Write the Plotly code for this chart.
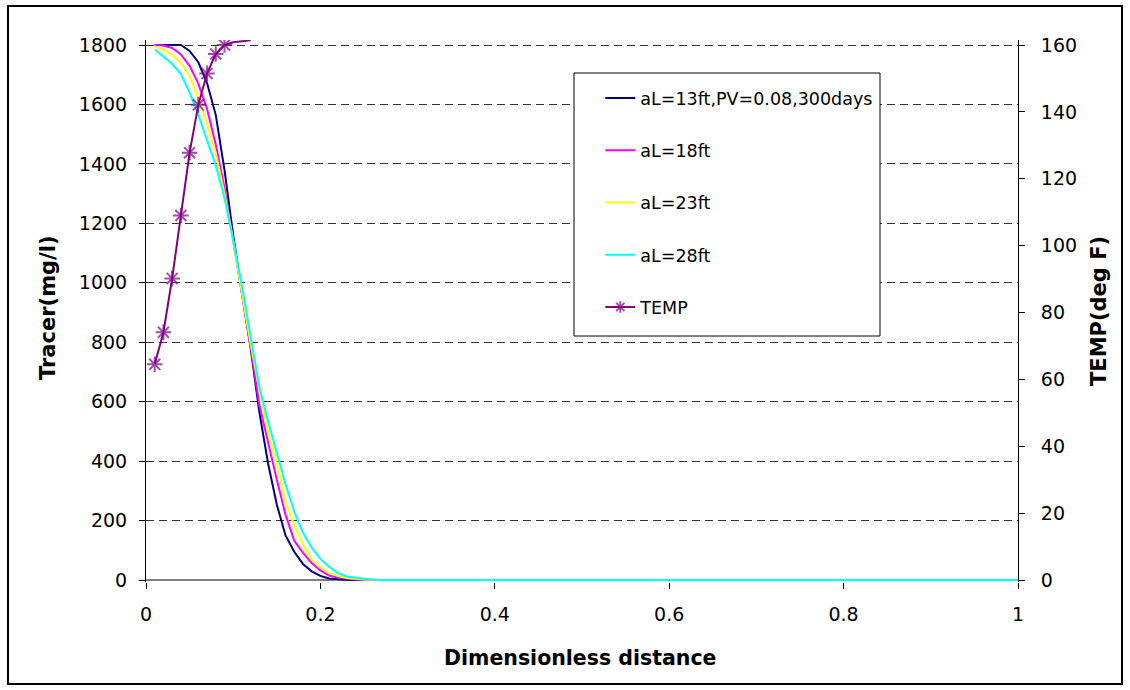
import plotly.graph_objects as go

# ---------------- data ----------------
dist = [0.01, 0.02, 0.03, 0.04, 0.05, 0.06, 0.07, 0.08, 0.09, 0.10,
        0.11, 0.12, 0.13, 0.14, 0.15, 0.16, 0.17, 0.18, 0.19, 0.20,
        0.21, 0.22, 0.23, 0.24, 0.25, 0.26, 0.27, 1.00]

al13 = [1800, 1800, 1800, 1800, 1780, 1742, 1672, 1565, 1380, 1160,
        965, 780, 565, 392, 254, 150, 95, 54, 29, 14,
        5, 2, 1, 0, 0, 0, 0, 0]
al18 = [1800, 1798, 1790, 1768, 1730, 1670, 1585, 1465, 1320, 1145,
        965, 785, 589, 462, 338, 220, 132, 92, 57, 32,
        15, 8, 4, 2, 0, 0, 0, 0]
al23 = [1795, 1785, 1768, 1740, 1697, 1622, 1535, 1435, 1300, 1140,
        965, 795, 640, 500, 395, 265, 185, 120, 68, 42,
        23, 13, 7, 4, 2, 1, 0, 0]
al28 = [1785, 1762, 1737, 1703, 1640, 1565, 1478, 1395, 1285, 1144,
        990, 820, 650, 533, 424, 323, 230, 160, 109, 71,
        44, 23, 12, 7, 4, 2, 0, 0]

temp_x = [0.01, 0.02, 0.03, 0.04, 0.05, 0.06, 0.07, 0.08, 0.09, 0.10, 0.11, 0.12]
temp = [64.5, 74.1, 90.2, 109.0, 127.8, 142.1, 151.5, 157.3, 160.0, 160.8, 161.2, 161.4]
temp_marked = [True, True, True, True, True, True, True, True, True, False, False, False]

series_names = ["aL=13ft,PV=0.08,300days", "aL=18ft", "aL=23ft", "aL=28ft"]
series_vals = [al13, al18, al23, al28]
series_colors = ["#000080", "#FF00FF", "#FFFF00", "#00FFFF"]

left_ticks = [0, 200, 400, 600, 800, 1000, 1200, 1400, 1600, 1800]
right_ticks = [0, 20, 40, 60, 80, 100, 120, 140, 160]
x_ticks = [0, 0.2, 0.4, 0.6, 0.8, 1]
x_ticklabels = ["0", "0.2", "0.4", "0.6", "0.8", "1"]

FONT = "DejaVu Sans"
TICK_SIZE = 19

# ---------------- figure ----------------
fig = go.Figure()

for i, (name, vals, col) in enumerate(zip(series_names, series_vals, series_colors)):
    fig.add_trace(go.Scatter(
        x=dist, y=vals, name=name, mode="lines",
        line=dict(color=col, width=2),
        legendgroup="g%d" % i,
    ))

fig.add_trace(go.Scatter(
    x=temp_x, y=temp, name="TEMP", mode="lines+markers", yaxis="y2",
    line=dict(color="#800080", width=2),
    marker=dict(symbol="asterisk-open",
                size=[13 if m else 0 for m in temp_marked],
                color="#800080",
                line=dict(color="#800080", width=2)),
    legendgroup="g4",
))

# geometry: plot area 146..1018 x, 40..582 y ; value 0 at 580, 1800 at 45
ppu = 535 / 1800.0
ppu2 = 535 / 160.0

fig.update_layout(
    width=1130, height=690,
    margin=dict(l=146, r=112, t=40, b=108, pad=0),
    paper_bgcolor="white", plot_bgcolor="white",
    font=dict(family=FONT, size=17.5, color="black"),
    showlegend=True,
    legend=dict(
        x=0.521, y=0.926, xanchor="left", yanchor="top",
        bgcolor="rgba(0,0,0,0)", borderwidth=0,
        font=dict(family=FONT, size=17.5, color="black"),
        tracegroupgap=26.5,
    ),
    xaxis=dict(
        range=[0, 1], tickvals=x_ticks, ticktext=x_ticklabels,
        showgrid=False, zeroline=False, showline=False,
        ticks="outside", ticklen=6, tickcolor="black",
        ticklabelstandoff=9, layer="below traces",
        tickfont=dict(family=FONT, size=TICK_SIZE, color="black"),
    ),
    yaxis=dict(
        range=[-2 / ppu, 1800 + 5 / ppu], tickvals=left_ticks,
        showgrid=True, gridcolor="#333333", gridwidth=1, griddash="8px,5px",
        zeroline=True, zerolinecolor="#808080", zerolinewidth=2,
        showline=True, linecolor="black", linewidth=1,
        ticks="outside", ticklen=6, tickcolor="black",
        ticklabelstandoff=8,
        tickfont=dict(family=FONT, size=TICK_SIZE, color="black"),
    ),
    yaxis2=dict(
        range=[-2 / ppu2, 160 + 5 / ppu2], tickvals=right_ticks,
        overlaying="y", side="right",
        showgrid=False, zeroline=False,
        showline=True, linecolor="black", linewidth=1,
        ticks="outside", ticklen=6, tickcolor="black",
        ticklabelstandoff=12,
        tickfont=dict(family=FONT, size=TICK_SIZE, color="black"),
    ),
)

# outer chart frame and legend box
W, H = 872.0, 542.0
def px(xp):
    return (xp - 146) / W
def py(yp):
    return (582 - yp) / H

fig.add_shape(type="rect", xref="paper", yref="paper",
              x0=px(8), x1=px(1122), y0=py(684), y1=py(6),
              line=dict(color="black", width=2), fillcolor="rgba(0,0,0,0)",
              layer="below")
fig.add_shape(type="rect", xref="paper", yref="paper",
              x0=px(574), x1=px(880), y0=py(336), y1=py(73),
              line=dict(color="black", width=1), fillcolor="white",
              layer="above")

# axis titles
fig.add_annotation(text="<b>Tracer(mg/l)</b>", xref="paper", yref="paper",
                   x=px(48), y=py(308), xanchor="center", yanchor="middle",
                   showarrow=False, textangle=-90,
                   font=dict(family=FONT, size=21, color="black"))
fig.add_annotation(text="<b>TEMP(deg F)</b>", xref="paper", yref="paper",
                   x=px(1099), y=py(311), xanchor="center", yanchor="middle",
                   showarrow=False, textangle=-90,
                   font=dict(family=FONT, size=21, color="black"))
fig.add_annotation(text="<b>Dimensionless distance</b>", xref="paper", yref="paper",
                   x=px(580), y=py(658), xanchor="center", yanchor="middle",
                   showarrow=False,
                   font=dict(family=FONT, size=20.5, color="black"))

fig.write_html("out.html")
